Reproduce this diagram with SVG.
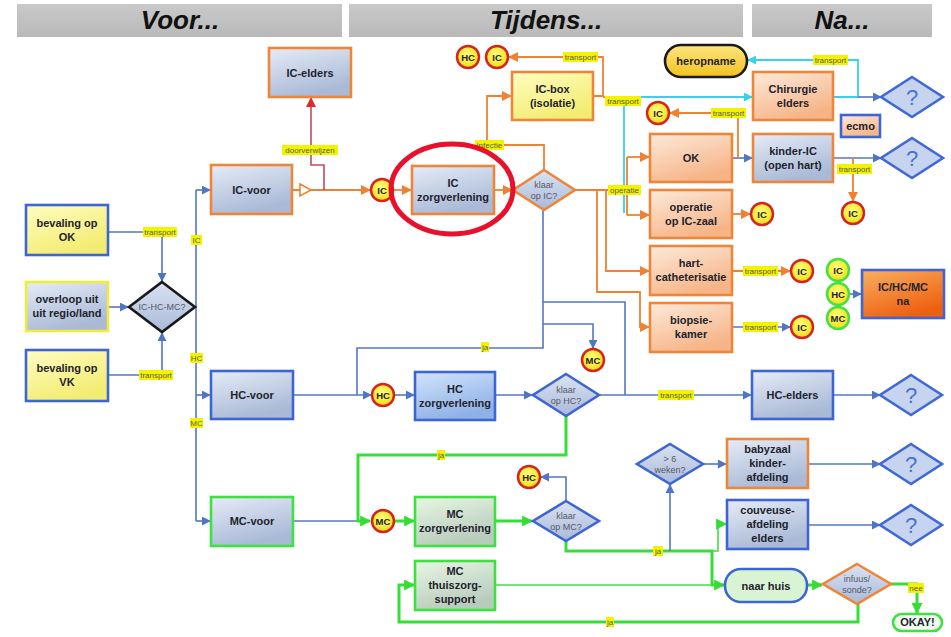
<svg xmlns="http://www.w3.org/2000/svg" width="951" height="637" viewBox="0 0 951 637">
<defs>
  <linearGradient id="gBlueGrey" x1="0" y1="0" x2="0.4" y2="1">
    <stop offset="0" stop-color="#e6ecf7"/><stop offset="1" stop-color="#a9b9d6"/>
  </linearGradient>
  <linearGradient id="gBlue" x1="0" y1="0" x2="0.4" y2="1">
    <stop offset="0" stop-color="#d3e4fb"/><stop offset="1" stop-color="#8eb1e6"/>
  </linearGradient>
  <linearGradient id="gGreen" x1="0" y1="0" x2="0.4" y2="1">
    <stop offset="0" stop-color="#e6f7e2"/><stop offset="1" stop-color="#b9cbbd"/>
  </linearGradient>
  <linearGradient id="gPeach" x1="0" y1="0" x2="0.5" y2="1">
    <stop offset="0" stop-color="#fdeadb"/><stop offset="1" stop-color="#f6b487"/>
  </linearGradient>
  <linearGradient id="gYellow" x1="0" y1="0" x2="0.5" y2="1">
    <stop offset="0" stop-color="#fffdc2"/><stop offset="1" stop-color="#f3ec72"/>
  </linearGradient>
  <linearGradient id="gOrange" x1="0" y1="0" x2="0.5" y2="1">
    <stop offset="0" stop-color="#f9b060"/><stop offset="1" stop-color="#ef5f10"/>
  </linearGradient>
  <linearGradient id="gGold" x1="0" y1="0" x2="0" y2="1">
    <stop offset="0" stop-color="#fde680"/><stop offset="1" stop-color="#f3c21c"/>
  </linearGradient>
  <linearGradient id="gDia" x1="0" y1="0" x2="0" y2="1">
    <stop offset="0" stop-color="#dbe3f3"/><stop offset="1" stop-color="#a9b9d8"/>
  </linearGradient>
  <linearGradient id="gHdr" x1="0" y1="0" x2="0" y2="1">
    <stop offset="0" stop-color="#c9c9c9"/><stop offset="1" stop-color="#b9b9b9"/>
  </linearGradient>
  <radialGradient id="gDot" cx="0.45" cy="0.4" r="0.6">
    <stop offset="0" stop-color="#ffff80"/><stop offset="1" stop-color="#f2de10"/>
  </radialGradient>

  <marker id="aBlue" viewBox="0 0 10 10" refX="9" refY="5" markerWidth="9" markerHeight="9" markerUnits="userSpaceOnUse" orient="auto"><path d="M0,0 L10,5 L0,10 z" fill="#4f76c4"/></marker>
  <marker id="aOrange" viewBox="0 0 10 10" refX="9" refY="5" markerWidth="10" markerHeight="10" markerUnits="userSpaceOnUse" orient="auto"><path d="M0,0 L10,5 L0,10 z" fill="#f08130"/></marker>
  <marker id="aGreen" viewBox="0 0 10 10" refX="9" refY="5" markerWidth="11" markerHeight="11" markerUnits="userSpaceOnUse" orient="auto"><path d="M0,0 L10,5 L0,10 z" fill="#34dc34"/></marker>
  <marker id="aCyan" viewBox="0 0 10 10" refX="9" refY="5" markerWidth="9" markerHeight="9" markerUnits="userSpaceOnUse" orient="auto"><path d="M0,0 L10,5 L0,10 z" fill="#36d2e8"/></marker>
  <marker id="aRed" viewBox="0 0 10 10" refX="9" refY="5" markerWidth="10" markerHeight="10" markerUnits="userSpaceOnUse" orient="auto"><path d="M0,0 L10,5 L0,10 z" fill="#e02a2a"/></marker>

  <style>
    .hdr{fill:url(#gHdr)}
    .hdrt{font-family:"Liberation Sans",Arial,sans-serif;font-weight:bold;font-style:italic;font-size:26px;fill:#111;text-anchor:middle}
    .box{stroke-width:2.6}
    .ob{stroke:#ee8538}
    .bb{stroke:#3d66d4}
    .gb{stroke:#3fe03f}
    .yb{stroke:#f0ec3c}
    .kb{stroke:#1a1a1a}
    .fBG{fill:url(#gBlueGrey)}
    .fB{fill:url(#gBlue)}
    .fG{fill:url(#gGreen)}
    .fP{fill:url(#gPeach)}
    .fY{fill:url(#gYellow)}
    .fO{fill:url(#gOrange)}
    .t{font-family:"Liberation Sans",Arial,sans-serif;font-weight:bold;font-size:11px;fill:#22232d;text-anchor:middle}
    .dt{font-family:"Liberation Sans",Arial,sans-serif;font-size:9px;fill:#555a66;text-anchor:middle}
    .dia{fill:url(#gDia);stroke-width:2.6}
    .q{fill:#c6d4ef;stroke:#3f68d8;stroke-width:2.6}
    .qt{font-family:"Liberation Sans",Arial,sans-serif;font-size:22px;fill:#4a72d2;text-anchor:middle}
    .dot{fill:url(#gDot);stroke:#d82222;stroke-width:2.5}
    .dotg{fill:url(#gDot);stroke:#44e044;stroke-width:2.5}
    .dt2{font-family:"Liberation Sans",Arial,sans-serif;font-weight:bold;font-size:9.5px;fill:#222;text-anchor:middle}
    .lb{fill:none;stroke:#5477c2;stroke-width:1.6}
    .lo{fill:none;stroke:#f08130;stroke-width:1.8}
    .lg{fill:none;stroke:#38de38;stroke-width:3}
    .lgt{fill:none;stroke:#46dc46;stroke-width:1.6}
    .lc{fill:none;stroke:#36d2e8;stroke-width:1.8}
    .lr{fill:none;stroke:#c24a62;stroke-width:1.6}
    .lbl rect{fill:#f3f300}
    .lbl text{font-family:"Liberation Sans",Arial,sans-serif;font-size:8px;fill:#5a5a4a;text-anchor:middle}
  </style>
</defs>

<rect width="951" height="637" fill="#ffffff"/>

<!-- phase headers -->
<g id="hdr-voor"><rect class="hdr" x="17" y="4" width="325" height="33"/><text class="hdrt" x="180" y="29">Voor...</text></g>
<g id="hdr-tijdens"><rect class="hdr" x="349" y="4" width="394" height="33"/><text class="hdrt" x="546" y="29">Tijdens...</text></g>
<g id="hdr-na"><rect class="hdr" x="752" y="4" width="180" height="33"/><text class="hdrt" x="842" y="29">Na...</text></g>

<!-- connectors -->
<g id="connectors">
  <!-- intake -->
  <path class="lb" d="M108,232 H162 V281" marker-end="url(#aBlue)"/>
  <path class="lb" d="M108,375 H162 V333" marker-end="url(#aBlue)"/>
  <path class="lb" d="M108,307 H128" marker-end="url(#aBlue)"/>
  <path class="lb" d="M195,307 H196 M196,190 V521"/>
  <path class="lb" d="M196,190 H210" marker-end="url(#aBlue)"/>
  <path class="lb" d="M196,395 H210" marker-end="url(#aBlue)"/>
  <path class="lb" d="M196,521 H210" marker-end="url(#aBlue)"/>

  <!-- IC route -->
  <path class="lo" d="M292,190 H300 M311,190 H370" marker-end="url(#aOrange)"/>
  <polygon points="300,184 311,190 300,196" fill="#ffffff" stroke="#f08130" stroke-width="1.6"/>
  <path class="lr" d="M324,190 V165 H311 V98" marker-end="url(#aRed)"/>
  <path class="lo" d="M394,190 H411" marker-end="url(#aOrange)"/>
  <path class="lo" d="M494,190 H512" marker-end="url(#aOrange)"/>
  <path class="lo" d="M544,170 V145 H487 V96 H511" marker-end="url(#aOrange)"/>
  <path class="lo" d="M593,96 H603 V57 H509" marker-end="url(#aOrange)"/>
  <path class="lo" d="M603,97 H624"/>
  <path class="lc" d="M624,213 V97 H752" marker-end="url(#aCyan)"/>
  <path class="lc" d="M833,97 H858 V60 H748" marker-end="url(#aCyan)"/>
  <path class="lb" d="M858,97 H881" marker-end="url(#aBlue)"/>

  <path class="lo" d="M575,190 H627 M627,157 V215"/>
  <path class="lo" d="M627,157 H649" marker-end="url(#aOrange)"/>
  <path class="lo" d="M627,215 H649" marker-end="url(#aOrange)"/>
  <path class="lo" d="M606,190 V271 H649" marker-end="url(#aOrange)"/>
  <path class="lo" d="M597,190 V292 H640 V327 H649" marker-end="url(#aOrange)"/>

  <path class="lb" d="M732,158 H752" marker-end="url(#aBlue)"/>
  <path class="lo" d="M738,158 V113 H670" marker-end="url(#aOrange)"/>
  <path class="lb" d="M833,158 H881" marker-end="url(#aBlue)"/>
  <path class="lo" d="M853,158 V201" marker-end="url(#aOrange)"/>
  <path class="lo" d="M732,214 H750" marker-end="url(#aOrange)"/>
  <path class="lo" d="M732,271 H790" marker-end="url(#aOrange)"/>
  <path class="lb" d="M732,327 H790" marker-end="url(#aBlue)"/>
  <path class="lb" d="M850,294 H861" marker-end="url(#aBlue)"/>

  <!-- HC route -->
  <path class="lb" d="M293,395 H371" marker-end="url(#aBlue)"/>
  <path class="lb" d="M543,210 V348 H357 V395"/>
  <path class="lb" d="M543,302 H625 V395"/>
  <path class="lb" d="M543,324 H593 V348" marker-end="url(#aBlue)"/>
  <path class="lb" d="M394,395 H414" marker-end="url(#aBlue)"/>
  <path class="lb" d="M495,395 H532" marker-end="url(#aBlue)"/>
  <path class="lb" d="M599,395 H751" marker-end="url(#aBlue)"/>
  <path class="lb" d="M833,395 H880" marker-end="url(#aBlue)"/>

  <!-- MC route -->
  <path class="lb" d="M293,521 H358"/>
  <path class="lg" d="M566,416 V455 H358 V521 H370" marker-end="url(#aGreen)"/>
  <path class="lg" d="M394,521 H414" marker-end="url(#aGreen)"/>
  <path class="lg" d="M495,521 H532" marker-end="url(#aGreen)"/>
  <path class="lb" d="M566,501 V477 H541" marker-end="url(#aBlue)"/>
  <path class="lg" d="M566,541 V551 H712 V585 H724" marker-end="url(#aGreen)"/>
  <path class="lgt" d="M712,551 H718 V524 H726" marker-end="url(#aGreen)"/>
  <path class="lgt" d="M495,585 H712"/>
  <path class="lb" d="M670,551 V485" marker-end="url(#aBlue)"/>
  <path class="lb" d="M703,464 H726" marker-end="url(#aBlue)"/>
  <path class="lb" d="M808,464 H880" marker-end="url(#aBlue)"/>
  <path class="lb" d="M808,525 H880" marker-end="url(#aBlue)"/>
  <path class="lg" d="M807,585 H822" marker-end="url(#aGreen)"/>
  <path class="lg" d="M891,584 H917 V613" marker-end="url(#aGreen)"/>
  <path class="lg" d="M858,604 V622 H399 V585 H414" marker-end="url(#aGreen)"/>

  <!-- connector labels -->
  <g class="lbl"><rect x="143" y="227" width="34" height="10"/><text x="160" y="235">transport</text></g>
  <g class="lbl"><rect x="139" y="370" width="34" height="10"/><text x="156" y="378">transport</text></g>
  <g class="lbl"><rect x="191" y="235" width="11" height="10"/><text x="196.5" y="243">IC</text></g>
  <g class="lbl"><rect x="190" y="353" width="13" height="10"/><text x="196.5" y="361">HC</text></g>
  <g class="lbl"><rect x="190" y="418" width="13" height="10"/><text x="196.5" y="426">MC</text></g>
  <g class="lbl"><rect x="282" y="145" width="56" height="10"/><text x="310" y="153">doorverwijzen</text></g>
  <g class="lbl"><rect x="475" y="140" width="29" height="10"/><text x="489.5" y="148">infectie</text></g>
  <g class="lbl"><rect x="563" y="52" width="35" height="10"/><text x="580.5" y="60">transport</text></g>
  <g class="lbl"><rect x="605" y="96" width="36" height="10"/><text x="623" y="104">transport</text></g>
  <g class="lbl"><rect x="608" y="185" width="33" height="10"/><text x="624.5" y="193">operatie</text></g>
  <g class="lbl"><rect x="813" y="55" width="35" height="10"/><text x="830.5" y="63">transport</text></g>
  <g class="lbl"><rect x="711" y="108" width="35" height="10"/><text x="728.5" y="116">transport</text></g>
  <g class="lbl"><rect x="837" y="164" width="35" height="10"/><text x="854.5" y="172">transport</text></g>
  <g class="lbl"><rect x="743" y="266" width="35" height="10"/><text x="760.5" y="274">transport</text></g>
  <g class="lbl"><rect x="743" y="322" width="35" height="10"/><text x="760.5" y="330">transport</text></g>
  <g class="lbl"><rect x="481" y="342" width="8" height="10"/><text x="485" y="350">ja</text></g>
  <g class="lbl"><rect x="658" y="390" width="36" height="10"/><text x="676" y="398">transport</text></g>
  <g class="lbl"><rect x="437" y="450" width="8" height="10"/><text x="441" y="458">ja</text></g>
  <g class="lbl"><rect x="653" y="546" width="10" height="10"/><text x="658" y="554">ja</text></g>
  <g class="lbl"><rect x="606" y="617" width="8" height="10"/><text x="610" y="625">ja</text></g>
  <g class="lbl"><rect x="908" y="583" width="16" height="10"/><text x="916" y="591">nee</text></g>
</g>

<!-- intake nodes -->
<g id="n-bevaling-ok"><rect class="box bb fY" x="26" y="205" width="82" height="50"/><text class="t" x="67" y="227">bevaling op</text><text class="t" x="67" y="241">OK</text></g>
<g id="n-overloop"><rect class="box yb fBG" x="26" y="282" width="82" height="49"/><text class="t" x="67" y="303">overloop uit</text><text class="t" x="67" y="317">uit regio/land</text></g>
<g id="n-bevaling-vk"><rect class="box bb fY" x="26" y="350" width="82" height="51"/><text class="t" x="67" y="372">bevaling op</text><text class="t" x="67" y="386">VK</text></g>
<g id="n-ic-hc-mc"><polygon class="dia kb" points="162,282 195,307 162,332 129,307" stroke-width="3"/><text class="dt" x="162" y="310" font-size="8">IC-HC-MC?</text></g>

<g id="n-ic-voor"><rect class="box ob fBG" x="211" y="165" width="81" height="49"/><text class="t" x="251.5" y="194">IC-voor</text></g>
<g id="n-hc-voor"><rect class="box bb fBG" x="211" y="371" width="82" height="48"/><text class="t" x="252" y="399">HC-voor</text></g>
<g id="n-mc-voor"><rect class="box gb fBG" x="211" y="497" width="82" height="49"/><text class="t" x="252" y="525">MC-voor</text></g>
<g id="n-ic-elders"><rect class="box ob fBG" x="269" y="48" width="82" height="49"/><text class="t" x="310" y="77">IC-elders</text></g>

<!-- IC care -->
<g id="c-ic-in"><circle class="dot" cx="382" cy="190" r="11"/><text class="dt2" x="382" y="193.5">IC</text></g>
<g id="n-ic-zorg"><rect class="box ob fBG" x="412" y="166" width="82" height="48"/><text class="t" x="453" y="187">IC</text><text class="t" x="453" y="201">zorgverlening</text></g>
<g id="n-klaar-ic"><polygon class="dia ob" points="544,170 575,190 544,210 513,190"/><text class="dt" x="544" y="188">klaar</text><text class="dt" x="544" y="199">op IC?</text></g>
<g id="n-ic-box"><rect class="box ob fY" x="512" y="72" width="81" height="48"/><text class="t" x="552.5" y="93">IC-box</text><text class="t" x="552.5" y="107">(isolatie)</text></g>
<g id="c-hc-top"><circle class="dot" cx="468" cy="57" r="11"/><text class="dt2" x="468" y="60.5">HC</text></g>
<g id="c-ic-top"><circle class="dot" cx="497" cy="57" r="11"/><text class="dt2" x="497" y="60.5">IC</text></g>
<g id="n-heropname"><rect x="665" y="45" width="82" height="32" rx="16" fill="url(#gGold)" stroke="#1a1a1a" stroke-width="2.6"/><text class="t" x="706" y="65">heropname</text></g>
<g id="n-chirurgie"><rect class="box ob fP" x="753" y="72" width="80" height="48"/><text class="t" x="793" y="93">Chirurgie</text><text class="t" x="793" y="107">elders</text></g>
<g id="n-q1"><polygon class="q" points="912,77 943,97 912,117 881,97"/><text class="qt" x="912" y="105">?</text></g>
<g id="n-ecmo"><rect class="box bb fP" x="841" y="115" width="39" height="22"/><text class="t" x="860.5" y="130">ecmo</text></g>
<g id="c-ic-ok"><circle class="dot" cx="658" cy="113" r="11"/><text class="dt2" x="658" y="116.5">IC</text></g>
<g id="n-ok"><rect class="box ob fP" x="650" y="134" width="82" height="48"/><text class="t" x="691" y="162">OK</text></g>
<g id="n-kinder-ic"><rect class="box ob fBG" x="753" y="134" width="80" height="48"/><text class="t" x="793" y="155">kinder-IC</text><text class="t" x="793" y="169">(open hart)</text></g>
<g id="n-q2"><polygon class="q" points="912,138 943,158 912,178 881,158"/><text class="qt" x="912" y="166">?</text></g>
<g id="c-ic-kic"><circle class="dot" cx="853" cy="213" r="11"/><text class="dt2" x="853" y="216.5">IC</text></g>
<g id="n-ic-zaal"><rect class="box ob fP" x="650" y="190" width="82" height="48"/><text class="t" x="691" y="211">operatie</text><text class="t" x="691" y="225">op IC-zaal</text></g>
<g id="c-ic-zaal"><circle class="dot" cx="762" cy="214" r="11"/><text class="dt2" x="762" y="217.5">IC</text></g>
<g id="n-hartcath"><rect class="box ob fP" x="650" y="246" width="82" height="49"/><text class="t" x="691" y="267">hart-</text><text class="t" x="691" y="281">catheterisatie</text></g>
<g id="c-ic-hart"><circle class="dot" cx="802" cy="271" r="11"/><text class="dt2" x="802" y="274.5">IC</text></g>
<g id="n-biopsie"><rect class="box ob fP" x="650" y="303" width="82" height="49"/><text class="t" x="691" y="324">biopsie-</text><text class="t" x="691" y="338">kamer</text></g>
<g id="c-ic-bio"><circle class="dot" cx="802" cy="327" r="11"/><text class="dt2" x="802" y="330.5">IC</text></g>
<g id="c-na-ic"><circle class="dotg" cx="838" cy="270" r="11"/><text class="dt2" x="838" y="273.5">IC</text></g>
<g id="c-na-mc"><circle class="dotg" cx="838" cy="318" r="11"/><text class="dt2" x="838" y="321.5">MC</text></g>
<g id="c-na-hc"><circle class="dotg" cx="838" cy="294" r="11"/><text class="dt2" x="838" y="297.5">HC</text></g>
<g id="n-na"><rect class="box bb fO" x="862" y="270" width="82" height="48"/><text class="t" x="903" y="291" fill="#333">IC/HC/MC</text><text class="t" x="903" y="305" fill="#333">na</text></g>

<!-- HC care -->
<g id="c-hc-in"><circle class="dot" cx="383" cy="395" r="11"/><text class="dt2" x="383" y="398.5">HC</text></g>
<g id="n-hc-zorg"><rect class="box bb fB" x="415" y="372" width="80" height="48"/><text class="t" x="455" y="393">HC</text><text class="t" x="455" y="407">zorgverlening</text></g>
<g id="c-mc-mid"><circle class="dot" cx="593" cy="360" r="11"/><text class="dt2" x="593" y="363.5">MC</text></g>
<g id="n-klaar-hc"><polygon class="dia bb" points="566,374 599,395 566,416 533,395"/><text class="dt" x="566" y="393">klaar</text><text class="dt" x="566" y="404">op HC?</text></g>
<g id="n-hc-elders"><rect class="box bb fBG" x="752" y="371" width="81" height="48"/><text class="t" x="792.5" y="399">HC-elders</text></g>
<g id="n-q3"><polygon class="q" points="911,375 942,395 911,415 880,395"/><text class="qt" x="911" y="403">?</text></g>

<!-- MC care -->
<g id="c-mc-in"><circle class="dot" cx="383" cy="521" r="11"/><text class="dt2" x="383" y="524.5">MC</text></g>
<g id="n-mc-zorg"><rect class="box gb fG" x="415" y="497" width="80" height="49"/><text class="t" x="455" y="518">MC</text><text class="t" x="455" y="532">zorgverlening</text></g>
<g id="n-klaar-mc"><polygon class="dia bb" points="566,501 599,521 566,541 533,521"/><text class="dt" x="566" y="519">klaar</text><text class="dt" x="566" y="530">op MC?</text></g>
<g id="c-hc-low"><circle class="dot" cx="529" cy="477" r="11"/><text class="dt2" x="529" y="480.5">HC</text></g>
<g id="n-weken"><polygon class="dia bb" points="670,444 703,464 670,484 637,464"/><text class="dt" x="670" y="462">&gt; 6</text><text class="dt" x="670" y="473">weken?</text></g>
<g id="n-babyzaal"><rect class="box ob fBG" x="727" y="439" width="81" height="49"/><text class="t" x="767.5" y="453">babyzaal</text><text class="t" x="767.5" y="467">kinder-</text><text class="t" x="767.5" y="481">afdeling</text></g>
<g id="n-q4"><polygon class="q" points="911,444 942,464 911,484 880,464"/><text class="qt" x="911" y="472">?</text></g>
<g id="n-couveuse"><rect class="box bb fBG" x="727" y="500" width="81" height="49"/><text class="t" x="767.5" y="514">couveuse-</text><text class="t" x="767.5" y="528">afdeling</text><text class="t" x="767.5" y="542">elders</text></g>
<g id="n-q5"><polygon class="q" points="911,505 942,525 911,545 880,525"/><text class="qt" x="911" y="533">?</text></g>
<g id="n-thuiszorg"><rect class="box gb fG" x="415" y="561" width="80" height="49"/><text class="t" x="455" y="575">MC</text><text class="t" x="455" y="589">thuiszorg-</text><text class="t" x="455" y="603">support</text></g>
<g id="n-naar-huis"><rect x="725" y="569" width="82" height="33" rx="16" fill="#d9f4d3" stroke="#3d66d4" stroke-width="2.6"/><text class="t" x="766" y="590">naar huis</text></g>
<g id="n-infuus"><polygon class="dia ob" points="857,564 891,584 857,604 823,584"/><text class="dt" x="857" y="582">infuus/</text><text class="dt" x="857" y="593">sonde?</text></g>
<g id="n-okay"><rect x="893" y="614" width="49" height="17" rx="8.5" fill="#f2fbf0" stroke="#3fe03f" stroke-width="2.6"/><text class="t" x="917.5" y="626" font-size="9" fill="#e02a2a">OKAY!</text></g>

<!-- highlight ring around the IC care step -->
<g id="highlight"><ellipse cx="452" cy="189" rx="61" ry="45" fill="none" stroke="#e8102a" stroke-width="5"/></g>
</svg>
